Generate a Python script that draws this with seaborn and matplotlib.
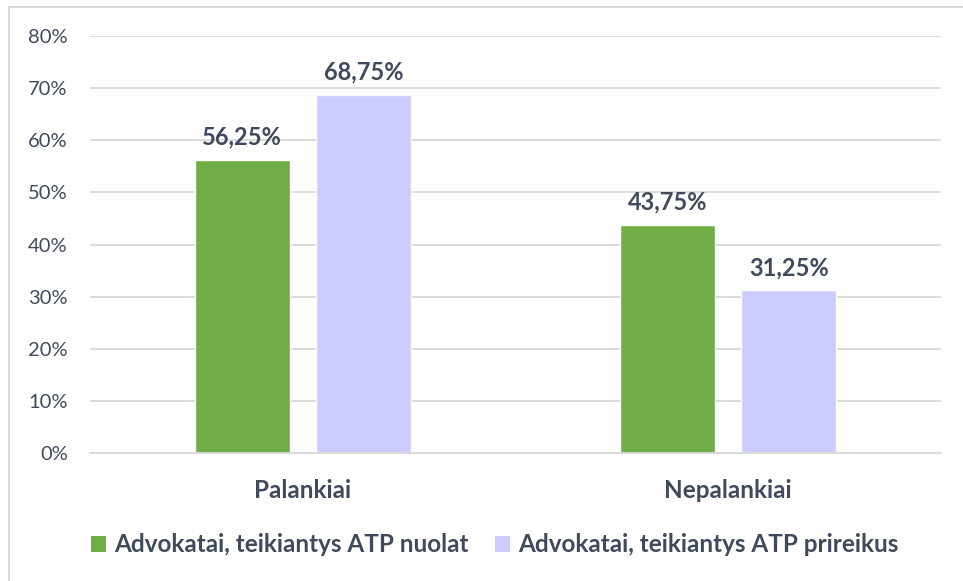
import matplotlib
matplotlib.use("Agg")
import matplotlib.pyplot as plt
import seaborn as sns
import pandas as pd
from matplotlib.lines import Line2D
from matplotlib.patches import Patch

categories = ["Palankiai", "Nepalankiai"]
series_names = ["Advokatai, teikiantys ATP nuolat", "Advokatai, teikiantys ATP prireikus"]
nuolat = [56.25, 43.75]
prireikus = [68.75, 31.25]
yticks = [0, 10, 20, 30, 40, 50, 60, 70, 80]

colors = ["#70AD47", "#CCCCFF"]
text_color = "#404A5C"

df = pd.DataFrame({
    "Kategorija": categories * 2,
    "Grupe": [series_names[0]] * 2 + [series_names[1]] * 2,
    "Reiksme": nuolat + prireikus,
})

sns.set_theme(style="white")
plt.rcParams["font.family"] = ["Lato", "DejaVu Sans"]

fig = plt.figure(figsize=(9.63, 5.81), dpi=100)
ax = fig.add_axes([90 / 963, 128 / 581, 851 / 963, 417 / 581])

sns.barplot(data=df, x="Kategorija", y="Reiksme", hue="Grupe",
            palette=colors, width=0.57, gap=0.215, ax=ax, legend=False,
            saturation=1)

ax.set_ylim(0, 80)
ax.set_xlim(-0.5, 1.5)
ax.set_yticks(yticks)
ax.set_yticklabels([f"{v}%" for v in yticks], fontsize=14.5, color=text_color)
ax.yaxis.grid(True, color="#D9D9D9", linewidth=1.3)
ax.set_axisbelow(True)
for s in ["top", "right", "left"]:
    ax.spines[s].set_visible(False)
ax.spines["bottom"].set_color("#D9D9D9")
ax.spines["bottom"].set_linewidth(1.3)
ax.tick_params(axis="y", length=0, pad=16)
ax.tick_params(axis="x", length=0, pad=19)
ax.set_xticks([0, 1])
ax.set_xticklabels(categories, fontsize=17.5, fontweight="bold", color=text_color)
ax.set_xlabel("")
ax.set_ylabel("")

for container in ax.containers:
    ax.bar_label(container, labels=[f"{v:.2f}%".replace(".", ",") for v in container.datavalues],
                 padding=8, fontsize=17, fontweight="bold", color=text_color)

handles = [Patch(facecolor=c, edgecolor="none") for c in colors]
fig.legend(handles, series_names, loc="center", bbox_to_anchor=(495 / 963, 1 - 545 / 581),
           ncol=2, frameon=False, handlelength=0.6, handleheight=0.6, handletextpad=0.35,
           columnspacing=1.1, prop={"size": 17.5, "weight": "bold"}, labelcolor=text_color)

# outer frame of the chart
fig.add_artist(Line2D([9 / 963, 9 / 963], [0, 1 - 7 / 581], transform=fig.transFigure,
                      color="#D9D9D9", linewidth=1.5))
fig.add_artist(Line2D([9 / 963, 1], [1 - 7 / 581, 1 - 7 / 581], transform=fig.transFigure,
                      color="#D9D9D9", linewidth=1.5))

fig.savefig("out.png", dpi=100)
